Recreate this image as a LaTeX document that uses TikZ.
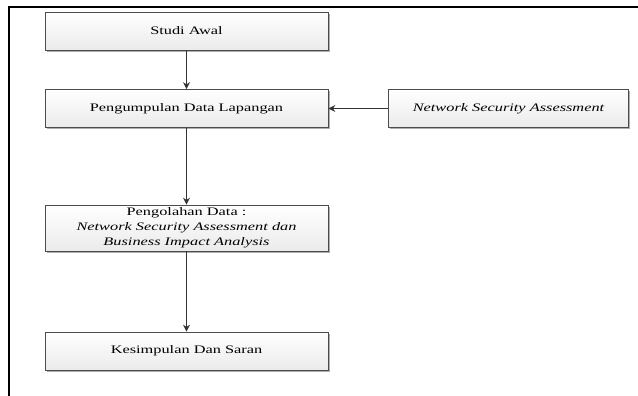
\documentclass[tikz,border=0pt]{standalone}
\usepackage{fontspec}
\setmainfont[FakeStretch=1.42]{Liberation Serif}
\usetikzlibrary{arrows.meta,shadows,positioning}

\tikzset{
  proses/.style={draw=black!70, line width=0.6pt, top color=white, bottom color=black!8,
    drop shadow={shadow xshift=1.6pt, shadow yshift=-1.6pt, fill=black!45, opacity=0.7},
    minimum width=283pt, minimum height=38pt, inner sep=0pt, align=center,
    font=\fontsize{11.5}{15}\selectfont},
  panah/.style={draw=black!80, line width=1pt, -{Stealth[length=7pt,width=7pt]}}
}

\begin{document}
\begin{tikzpicture}[x=1pt,y=-1pt]
\useasboundingbox (0,0) rectangle (638,396);
% garis tepi halaman
\draw[line width=2pt] (9,396) -- (9,7.5) -- (638,7.5);
% tahapan penelitian
\node[proses] (awal) at (186.5,31) {Studi Awal};
\node[proses] (kumpul) at (186.5,108.5) {Pengumpulan Data Lapangan};
\node[proses, minimum width=240pt] (nsa) at (508.5,108.5) {\itshape Network Security Assessment};
\node[proses, minimum height=46pt] (olah) at (186.5,228)
  {Pengolahan Data :\\ \itshape Network Security Assessment dan\\ \itshape Business Impact Analysis};
\node[proses] (simpul) at (186.5,351) {Kesimpulan Dan Saran};
% alur
\draw[panah] (awal) -- (kumpul);
\draw[panah] (nsa) -- (kumpul);
\draw[panah] (kumpul) -- (olah);
\draw[panah] (olah) -- (simpul);
\end{tikzpicture}
\end{document}
